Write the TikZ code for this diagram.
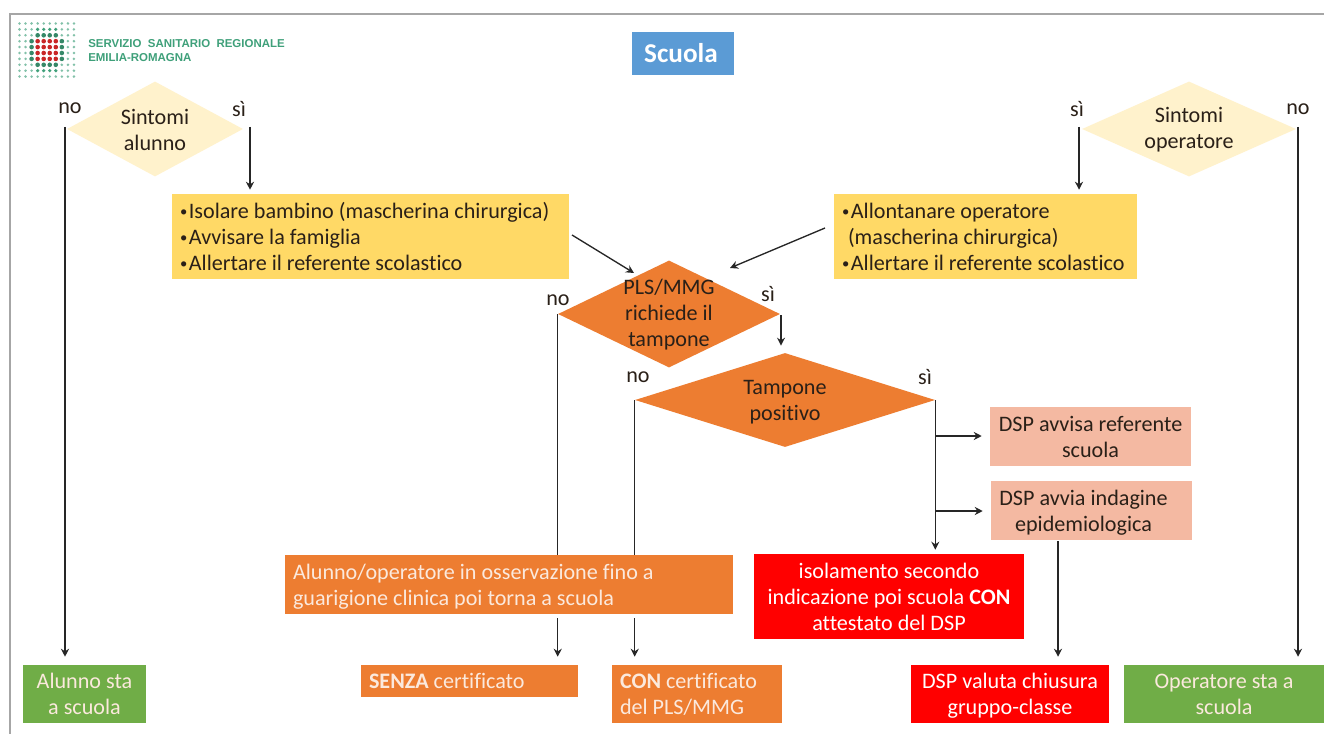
\documentclass[tikz,border=0pt]{standalone}
\usepackage{fontspec}
\setmainfont[Ligatures=NoCommon]{Carlito}
\newfontfamily\logofont{Liberation Sans}
\usetikzlibrary{shapes.geometric,arrows.meta}
\definecolor{cyel}{HTML}{FFD966}
\definecolor{cdia}{HTML}{FFF2CC}
\definecolor{cora}{HTML}{ED7D31}
\definecolor{cpink}{HTML}{F4B9A2}
\definecolor{cgre}{HTML}{70AD47}
\definecolor{cblu}{HTML}{5B9BD5}
\definecolor{cred}{HTML}{FF0000}
\definecolor{clogo}{HTML}{3FA07A}
\definecolor{cdark}{HTML}{2A2018}
\definecolor{coff}{HTML}{FBE9DD}
\newcommand{\bul}{{\fontsize{11}{11}\selectfont\raisebox{1.2pt}{•}\hspace{1.2pt}}}
\tikzset{
  wh/.style 2 args={minimum width=#1*0.75pt,minimum height=#2*0.75pt},
  basefont/.style={font=\fontsize{16.6}{19.5}\selectfont},
  ctbox/.style={rectangle,inner sep=0pt,align=center,basefont,text=white},
  lfbox/.style 2 args={rectangle,inner ysep=0pt,inner xsep=6pt,align=flush left,basefont,
     text width=#1*0.75pt-12pt,minimum height=#2*0.75pt},
  dia/.style 2 args={diamond,inner sep=0pt,draw=none,minimum width=#1*0.75pt,minimum height=#2*0.75pt},
  dtxt/.style={align=center,basefont,text=cdark,inner sep=0pt},
  lab/.style={basefont,text=cdark,inner sep=0pt},
  flow/.style={draw=black!85,line width=1pt},
  arr/.style={flow,-{Stealth[length=6pt,width=6pt]},shorten >=6pt},
  arrt/.style={arr,shorten >=3pt},
}
\begin{document}
\begin{tikzpicture}[x=0.75pt,y=-0.75pt]
\useasboundingbox (0,0) rectangle (1324,734);
\fill[white] (0,0) rectangle (1324,734);
\draw[black!35,line width=1pt] (10,734) -- (10,14) -- (1324,14);
% logo
\foreach \c in {0,...,9}{\foreach \r in {0,...,9}{
  \pgfmathsetmacro{\dx}{abs(\c-4.5)}
  \pgfmathsetmacro{\dy}{abs(\r-4.5)}
  \pgfmathtruncatemacro{\lay}{(\dx<2 && \dy<2) ? 3 : (((\dx<3 && \dy<2) || (\dx<2 && \dy<3)) ? 2 : ((\dx<2 && \dy<4) ? 1 : 0))}
  \ifnum\lay=3
    \fill[red!75!black!85] (19.5+\c*6.05,23.5+\r*5.9) circle (2.3);
  \else\ifnum\lay=2
    \fill[clogo!85!black] (19.5+\c*6.05,23.5+\r*5.9) circle (2.3);
  \else\ifnum\lay=1
    \fill[clogo] (19.5+\c*6.05,23.5+\r*5.9) circle (1.8);
  \else
    \fill[clogo!65] (19.5+\c*6.05,23.5+\r*5.9) circle (1.4);
  \fi\fi\fi
}}
\node[anchor=west,inner sep=0pt,text=clogo,font=\fontsize{8.6}{10}\selectfont\logofont\bfseries] (logoa) at (88,44) {SERVIZIO\ \ SANITARIO\ \ REGIONALE};
\node[anchor=west,inner sep=0pt,text=clogo,font=\fontsize{8.6}{10}\selectfont\logofont\bfseries] (logob) at (88,58) {EMILIA-ROMAGNA};
% title
\node[rectangle,fill=cblu,wh={102}{43},inner sep=0pt,label={[text=white,inner sep=0pt,xshift=-1.5pt,font=\fontsize{20.4}{24}\selectfont\bfseries]center:Scuola}] (title) at (683,53.5) {};
% diamonds
\node[dia={176}{95},fill=cdia,label={[dtxt,yshift=-0.5pt]center:Sintomi\\alunno}] (da) at (155,129) {};
\node[dia={214}{95},fill=cdia,label={[dtxt,yshift=-0.5pt]center:Sintomi\\operatore}] (dop) at (1189,129) {};
\node[dia={222}{107},fill=cora,label={[dtxt,yshift=-0.8pt]center:PLS/MMG\\richiede il\\tampone}] (dp) at (669,314) {};
\node[dia={300}{94},fill=cora,label={[dtxt,yshift=-1.5pt]center:Tampone\\positivo}] (dt) at (785,400) {};
% boxes
\node[lfbox={397}{85},fill=cyel,text=cdark] (ya) at (370.5,236.5) {\bul Isolare bambino (mascherina chirurgica)\\\bul Avvisare la famiglia\\\bul Allertare il referente scolastico};
\node[lfbox={303}{85},fill=cyel,text=cdark] (yo) at (985.5,236.5) {\bul Allontanare operatore\\\hspace*{4.5pt}(mascherina chirurgica)\\\bul Allertare il referente scolastico};
\node[ctbox,fill=cpink,wh={201}{59},text=cdark] (pa) at (1090.5,436.5) {DSP avvisa referente\\scuola};
\node[rectangle,fill=cpink,wh={201}{59},inner sep=0pt,label={[dtxt,xshift=-6pt,yshift=-1.5pt]center:DSP avvia indagine\\epidemiologica}] (pb) at (1091.5,510.5) {};
\node[rectangle,fill=cora,wh={448}{59},inner sep=0pt,label={[align=flush left,basefont,text=coff,inner sep=0pt,anchor=west,xshift=6pt,yshift=-1.8pt]west:Alunno/operatore in osservazione fino a\\guarigione clinica poi torna a scuola}] (obs) at (509,584.5) {};
\node[ctbox,fill=cred,wh={270}{85}] (iso) at (889,596.5) {isolamento secondo\\indicazione poi scuola \textbf{CON}\\attestato del DSP};
\node[ctbox,fill=cgre,wh={123}{58},text=coff] (ga) at (84.5,694) {Alunno sta\\a scuola};
\node[lfbox={217}{32},fill=cora,text=coff] (sen) at (469.5,681) {\textbf{SENZA} certificato};
\node[lfbox={170}{58},fill=cora,text=coff] (con) at (697,694) {\textbf{CON} certificato\\del PLS/MMG};
\node[rectangle,fill=cred,wh={198}{58},inner sep=0pt,label={[dtxt,text=white,yshift=-1.5pt]center:DSP valuta chiusura\\gruppo-classe}] (rc) at (1010,694) {};
\node[ctbox,fill=cgre,wh={200}{58},text=coff] (go) at (1224,694) {Operatore sta a\\scuola};
% junctions
\coordinate (dan) at (65,127);
\coordinate (das) at (250,127);
\coordinate (dos) at (1079,127);
\coordinate (don) at (1298,127);
\coordinate (ya1) at (572,235);
\coordinate (dp1) at (634,273);
\coordinate (yo1) at (825,228);
\coordinate (dp2) at (730,268);
\coordinate (ts1) at (935,436);
\coordinate (ts2) at (935,511);
\coordinate (pbs) at (1058,541);
\coordinate (dpe) at (781,315);
\coordinate (dtn) at (781,353);
% connectors
\draw[arr] (dan) -- (dan |- ga.north);
\draw[arrt] (das) -- (das |- ya.north);
\draw[arrt] (dos) -- (dos |- yo.north);
\draw[arr] (don) -- (don |- go.north);
\draw[flow,-{Stealth[length=6pt,width=6pt]}] (ya1) -- (dp1);
\draw[flow,-{Stealth[length=6pt,width=6pt]}] (yo1) -- (dp2);
\draw[arr,shorten >=5.5pt] (dpe) -- (dtn);
\draw[flow] (dp.west) -- (dp.west |- obs.north);
\draw[flow] (dt.west) -- (dt.west |- obs.north);
\draw[arr] ([yshift=-3pt]dp.west |- obs.south) -- (dp.west |- sen.north);
\draw[arr] ([yshift=-3pt]dt.west |- obs.south) -- (dt.west |- con.north);
\draw[arrt] (dt.east) -- (dt.east |- iso.north);
\draw[arr] (ts1) -- (ts1 -| pa.west);
\draw[arr] (ts2) -- (ts2 -| pb.west);
\draw[arr] (pbs) -- (pbs |- rc.north);
% labels
\node[lab] (l1) at (70,108) {no};
\node[lab] (l2) at (239,109) {sì};
\node[lab] (l3) at (1077,109) {sì};
\node[lab] (l4) at (1298,109) {no};
\node[lab] (l5) at (558,300) {no};
\node[lab] (l6) at (768,294) {sì};
\node[lab] (l7) at (638,377) {no};
\node[lab] (l8) at (925,377) {sì};
\end{tikzpicture}
\end{document}
